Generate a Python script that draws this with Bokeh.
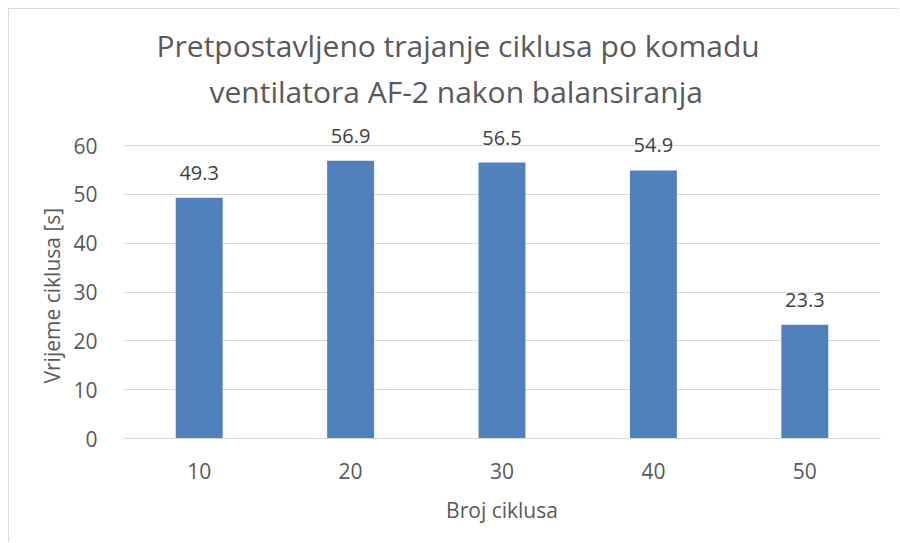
from bokeh.plotting import figure
from bokeh.models import FixedTicker, Range1d, ColumnDataSource, LabelSet, Title
from bokeh.core.properties import value
from bokeh.embed import file_html
from bokeh.resources import INLINE

categories = ["10", "20", "30", "40", "50"]
values = [49.3, 56.9, 56.5, 54.9, 23.3]
y_ticks = [0, 10, 20, 30, 40, 50, 60]

FONT = "Open Sans"
TXT = "#595959"

xs = [i + 0.5 for i in range(len(categories))]
src = ColumnDataSource(dict(x=xs, top=values, lab=[f"{v:.1f}" for v in values]))

p = figure(width=891, height=534, output_backend="svg", toolbar_location=None,
           x_range=Range1d(0, len(categories)), y_range=Range1d(0, 60 * 326 / 293),
           min_border_left=114, min_border_right=20, min_border_top=103, min_border_bottom=105,
           styles={"margin-left": "8px", "margin-top": "8px",
                   "border-top": "1px solid #d9d9d9", "border-left": "1px solid #d9d9d9"})
p.outline_line_color = None
p.background_fill_color = "white"
p.border_fill_color = "white"

p.vbar(x="x", top="top", width=0.31, bottom=0, source=src, fill_color="#4F81BD", line_color=None)

labels = LabelSet(x="x", y="top", text="lab", source=src, text_align="center", text_baseline="alphabetic",
                  y_offset=18, text_font=value(FONT), text_font_size="20px", text_color="#404040")
p.add_layout(labels)

p.xaxis.ticker = FixedTicker(ticks=xs)
p.xaxis.major_label_overrides = {x: c for x, c in zip(xs, categories)}
p.yaxis.ticker = FixedTicker(ticks=y_ticks)
p.xgrid.visible = False
p.ygrid.grid_line_color = "#d9d9d9"
p.ygrid.grid_line_width = 1

for ax in (p.xaxis[0], p.yaxis[0]):
    ax.major_tick_line_color = None
    ax.minor_tick_line_color = None
    ax.major_label_text_font = FONT
    ax.major_label_text_font_size = "21px"
    ax.major_label_text_color = TXT
    ax.axis_label_text_font = FONT
    ax.axis_label_text_font_size = "21px"
    ax.axis_label_text_color = TXT
    ax.axis_label_text_font_style = "normal"
p.yaxis.axis_line_color = None
p.xaxis.axis_line_color = "#d9d9d9"
p.xaxis.major_label_standoff = 18
p.yaxis.major_label_standoff = 20
p.xaxis.axis_label = "Broj ciklusa"
p.xaxis.axis_label_standoff = 14

ylab = Title(text="Vrijeme ciklusa [s]", align="left", offset=55, text_font=FONT, standoff=10,
             text_font_size="21px", text_color=TXT, text_font_style="normal")
p.add_layout(ylab, "left")

title_lines = ["Pretpostavljeno trajanje ciklusa po komadu",
               "ventilatora AF-2 nakon balansiranja"]
title_offsets = [33, 86]
title_standoffs = [6, 1]
for t, off, so in reversed(list(zip(title_lines, title_offsets, title_standoffs))):
    p.add_layout(Title(text=t, align="left", offset=off, text_font=FONT, text_font_size="30px",
                       text_color=TXT, text_font_style="normal", standoff=so), "above")

open("out.html", "w").write(file_html(p, INLINE))
